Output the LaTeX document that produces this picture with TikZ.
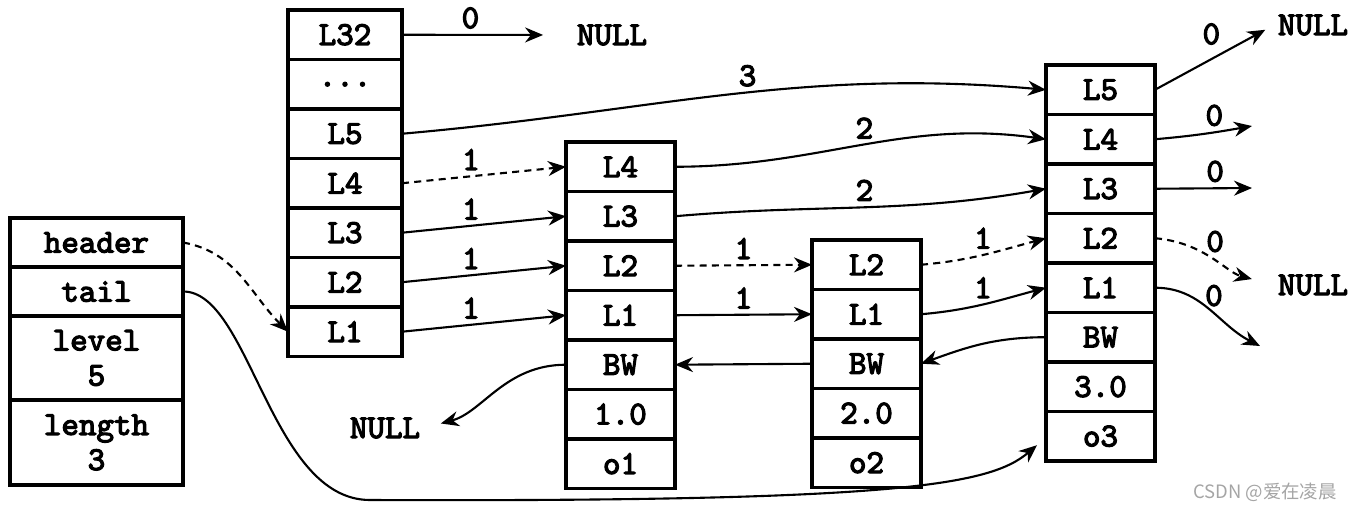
\documentclass[tikz,border=0pt]{standalone}
\usepackage{fontspec}
\usepackage{tikz}
\usetikzlibrary{arrows.meta,positioning}
\newfontfamily\markfont{Noto Sans CJK SC}
\newfontfamily\cellmono{lmmono10-regular}[Extension=.otf, FakeBold=3.5]
\newcommand{\cellfont}{\cellmono\fontsize{19}{20}\selectfont}
\definecolor{wmgray}{RGB}{165,165,165}
\tikzset{
    cell/.style={
        draw,
        line width=2pt,
        minimum width=2.18cm,
        minimum height=0.99cm,
        inner sep=0pt,
        outer sep=0pt,
        align=center,
        font=\cellfont
    },
    headcell/.style={
        cell,
        minimum width=2.28cm
    },
    infocell/.style={
        cell,
        minimum width=3.46cm
    },
    plain/.style={
        font=\cellfont,
        inner sep=2pt
    },
    span/.style={
        font=\cellfont,
        inner sep=3pt
    },
    fwd/.style={
        -{Stealth[length=3.6mm,width=3mm]},
        line width=1.2pt
    },
    fwddash/.style={
        fwd,
        dash pattern=on 4pt off 3pt
    }
}

\begin{document}
\begin{tikzpicture}[
    x=0.02cm,
    y=-0.02cm,
    node distance=0pt
]
    \useasboundingbox (0,0) rectangle (1356,512);

    \node[infocell, anchor=north west, minimum height=0.98cm] (hdr) at (10,218) {header};
    \node[infocell, below=of hdr, minimum height=0.98cm] (tl) {tail};
    \node[infocell, below=of tl, minimum height=1.68cm] (lvl) {level\\5};
    \node[infocell, below=of lvl, minimum height=1.7cm] (len) {length\\3};

    \node[headcell, anchor=north west] (h32) at (288,10) {L32};
    \node[headcell, below=of h32] (hdots) {...};
    \node[headcell, below=of hdots] (h5) {L5};
    \node[headcell, below=of h5] (h4) {L4};
    \node[headcell, below=of h4] (h3) {L3};
    \node[headcell, below=of h3] (h2) {L2};
    \node[headcell, below=of h2] (h1) {L1};

    \node[cell, anchor=north west] (a4) at (566,142) {L4};
    \node[cell, below=of a4] (a3) {L3};
    \node[cell, below=of a3] (a2) {L2};
    \node[cell, below=of a2] (a1) {L1};
    \node[cell, below=of a1] (abw) {BW};
    \node[cell, below=of abw] (ascore) {1.0};
    \node[cell, below=of ascore] (aobj) {o1};

    \node[cell, anchor=north west] (b2) at (812,240) {L2};
    \node[cell, below=of b2] (b1) {L1};
    \node[cell, below=of b1] (bbw) {BW};
    \node[cell, below=of bbw] (bscore) {2.0};
    \node[cell, below=of bscore] (bobj) {o2};

    \node[cell, anchor=north west] (c5) at (1046,65) {L5};
    \node[cell, below=of c5] (c4) {L4};
    \node[cell, below=of c4] (c3) {L3};
    \node[cell, below=of c3] (c2) {L2};
    \node[cell, below=of c2] (c1) {L1};
    \node[cell, below=of c1] (cbw) {BW};
    \node[cell, below=of cbw] (cscore) {3.0};
    \node[cell, below=of cscore] (cobj) {o3};

    \node[plain] (nulltop) at (612,35) {NULL};
    \node[plain] (nullback) at (385,428) {NULL};
    \node[plain] (nullright) at (1313,25) {NULL};
    \node[plain] (nullmid) at (1313,285) {NULL};
    \coordinate (c4end) at (1252,126);
    \coordinate (c3end) at (1252,188);
    \coordinate (c1end) at (1260,346);

    \node[text=wmgray, font=\markfont\fontsize{10.5}{12}\selectfont] (watermark)
        at (1265,492) {CSDN @爱在凌晨};

    \draw[fwd, shorten >=0.6cm] (h32.east) -- node[span, above, pos=0.4] {0} (nulltop.west);
    \draw[fwd] (h5.east) to[out=5,in=175] node[span, above, pos=0.54] {3} (c5.west);
    \draw[fwddash] (h4.east) -- node[span, above, pos=0.42] {1} (a4.west);
    \draw[fwd] (h3.east) -- node[span, above, pos=0.42] {1} (a3.west);
    \draw[fwd] (h2.east) -- node[span, above, pos=0.42] {1} (a2.west);
    \draw[fwd] (h1.east) -- node[span, above, pos=0.42] {1} (a1.west);

    \draw[fwddash] (hdr.east) to[out=-10,in=135] (h1.west);
    \draw[fwd]
        (tl.east)
        .. controls (250,291) and (270,500) .. (370,500)
        .. controls (900,502) and (990,485) ..
        ([xshift=-0.18cm,yshift=-0.18cm]cobj.west);

    \draw[fwd] (a4.east) to[out=0,in=172] node[span, above, pos=0.51] {2} (c4.west);
    \draw[fwd] (a3.east) to[out=5,in=190] node[span, above, pos=0.51] {2} (c3.west);
    \draw[fwddash] (a2.east) -- node[span, above] {1} (b2.west);
    \draw[fwd] (a1.east) -- node[span, above] {1} (b1.west);
    \draw[fwd] (bbw.west) -- (abw.east);
    \draw[fwd, shorten >=0.35cm] (abw.west) to[out=180,in=15] (nullback.east);

    \draw[fwddash] (b2.east) to[out=5,in=195] node[span, above, pos=0.49] {1} (c2.west);
    \draw[fwd] (b1.east) to[out=5,in=195] node[span, above, pos=0.49] {1} (c1.west);
    \draw[fwd] (cbw.west) to[out=180,in=20] (bbw.east);

    \draw[fwd, shorten >=0.2cm] (c5.east) -- node[span, above left, pos=0.6] {0} (nullright.west);
    \draw[fwd] (c4.east) to[out=5,in=190] node[span, above, pos=0.62] {0} (c4end);
    \draw[fwd] (c3.east) -- node[span, above, pos=0.62] {0} (c3end);
    \draw[fwddash, shorten >=0.46cm] (c2.east) to[out=-5,in=165] node[span, above, pos=0.5] {0} (nullmid.west);
    \draw[fwd] (c1.east) to[out=0,in=153] node[span, above, pos=0.55] {0} (c1end);
\end{tikzpicture}
\end{document}
